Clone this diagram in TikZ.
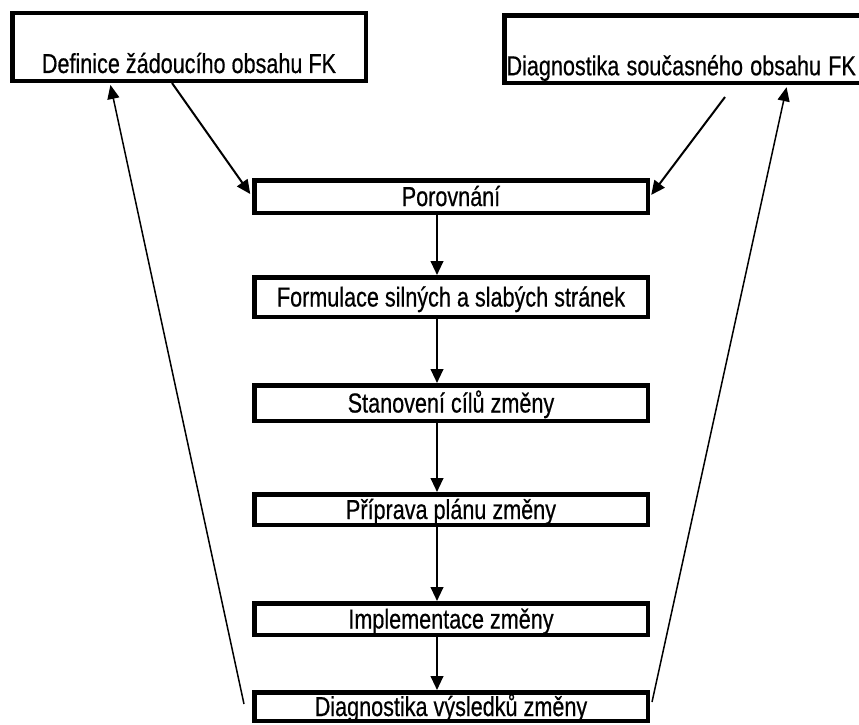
\documentclass[tikz,border=0pt]{standalone}
\usepackage{fontspec}
\usepackage{graphicx}
\setmainfont{Liberation Sans}[FakeBold=0.6]
\usetikzlibrary{arrows.meta}
\newdimen\pxu
\pxu=0.75pt
% narrow, tall lettering
\newcommand{\tall}[1]{\scalebox{1}[1.27]{#1}}
\tikzset{
  stagebox/.style={draw, rectangle, line width=4.5\pxu, inner sep=0pt,
    font=\fontsize{16.2pt}{19pt}\selectfont},
  midbox/.style={stagebox, minimum width=393.5\pxu, text height=19\pxu, text depth=0pt},
  topbox/.style={stagebox, text height=59.75\pxu, text depth=7.75\pxu},
  flow/.style={line width=2\pxu, -{Triangle[width=9.5pt,length=10.5pt]}},
  feedback/.style={line width=1.5\pxu, -{Triangle[width=9pt,length=10.5pt]}}
}
\begin{document}
\begin{tikzpicture}[x=0.75pt, y=-0.75pt]
\useasboundingbox (0,0) rectangle (859,724);
\clip (0,0) rectangle (859,724);

% two source boxes at the top
\node[topbox, minimum width=353.5\pxu] (def) at (189,47) {\tall{Definice žádoucího obsahu FK}};
\node[topbox, anchor=north west, text width=375\pxu, inner xsep=2\pxu, align=left]
  (cur) at (502.25,13.25) {\tall{Diagnostika současného obsahu FK}};

% the chain of steps
\node[midbox, minimum height=32.5\pxu] (porov) at (451,196.5) {\tall{Porovnání}};
\node[midbox, minimum height=39.5\pxu] (form)  at (451,297)   {\tall{Formulace silných a slabých stránek}};
\node[midbox, minimum height=35.5\pxu] (cile)  at (451,403)   {\tall{Stanovení cílů změny}};
\node[midbox, minimum height=30.5\pxu] (plan)  at (451,509.5) {\tall{Příprava plánu změny}};
\node[midbox, minimum height=31.5\pxu] (impl)  at (451,619)   {\tall{Implementace změny}};
\node[midbox, minimum height=28.5\pxu] (vysl)  at (451,706.5) {\tall{Diagnostika výsledků změny}};

% helper positions for connector ends
\coordinate (ax) at (437,0);
\coordinate (xa) at (172,0);
\coordinate (xl) at (110,0);
\coordinate (xr) at (787,0);
\coordinate (s2) at (725,97);
\coordinate (rl) at (244,704);
\coordinate (rr) at (652,702);

% inputs to the comparison
\draw[flow, shorten >=3\pxu] (def.south -| xa) -- (porov.west);
\draw[flow, shorten >=2\pxu] (s2) -- (porov.east);

% downward flow
\draw[flow] (porov.south -| ax) -- (form.north -| ax);
\draw[flow] (form.south -| ax)  -- (cile.north -| ax);
\draw[flow] (cile.south -| ax)  -- (plan.north -| ax);
\draw[flow] (plan.south -| ax)  -- (impl.north -| ax);
\draw[flow] (impl.south -| ax)  -- (vysl.north -| ax);

% feedback to the top boxes
\draw[feedback, shorten >=2\pxu] (rl) -- (def.south -| xl);
\draw[feedback, shorten >=2\pxu] (rr) -- (cur.south -| xr);
\end{tikzpicture}
\end{document}
